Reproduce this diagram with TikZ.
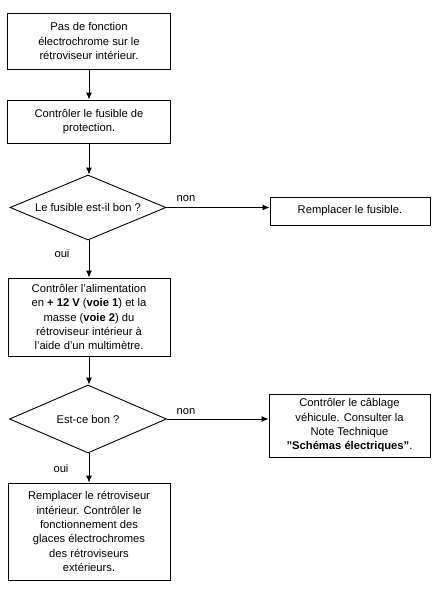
\documentclass[tikz,border=0pt]{standalone}
\usepackage{fontspec}
\setmainfont{Liberation Sans}
\usetikzlibrary{shapes.geometric,arrows.meta}
\begin{document}
\begin{tikzpicture}[x=1pt,y=-1pt,
  every node/.style={font=\fontsize{11.2}{14.3}\selectfont},
  boxnode/.style={draw,line width=0.9pt,rectangle,inner sep=0pt,align=center},
  decision/.style={draw,line width=0.9pt,diamond,inner sep=0pt,aspect=2.4},
  lbl/.style={inner sep=0pt},
  arr/.style={line width=0.9pt,-{Latex[length=7pt,width=6pt]}}]
\useasboundingbox (0,0) rectangle (435,592);
\node[boxnode,minimum width=163pt,minimum height=56pt] (b1) at (89,41)
  {Pas de fonction\\électrochrome sur le\\rétroviseur intérieur.};
\node[boxnode,minimum width=163pt,minimum height=43pt] (b2) at (89,121.5)
  {Contrôler le fusible de\\protection.};
\node[decision,minimum width=156pt,minimum height=65pt] (d1) at (88,207.5)
  {Le fusible est-il bon ?};
\node[boxnode,minimum width=160pt,minimum height=28pt] (r1) at (350,211)
  {Remplacer le fusible.};
\node[boxnode,minimum width=162pt,minimum height=78pt] (b3) at (89,317)
  {Contrôler l'alimentation\\en \textbf{+ 12 V} (\textbf{voie 1}) et la\\masse (\textbf{voie 2}) du\\rétroviseur intérieur à\\l'aide d'un multimètre.};
\node[decision,minimum width=157pt,minimum height=68pt] (d2) at (88,419)
  {Est-ce bon ?};
\node[boxnode,minimum width=161pt,minimum height=63pt] (r2) at (349.5,425.5)
  {Contrôler le câblage\\véhicule. Consulter la\\Note Technique\\\textbf{"Schémas électriques"}.};
\node[boxnode,minimum width=162pt,minimum height=97pt] (b5) at (89,531.5)
  {Remplacer le rétroviseur\\intérieur. Contrôler le\\fonctionnement des\\glaces électrochromes\\des rétroviseurs\\extérieurs.};
\node[lbl] (n1) at (186,199) {non};
\node[lbl] (n2) at (186,412) {non};
\node[lbl] (o1) at (62,253) {oui};
\node[lbl] (o2) at (61,468) {oui};
\draw[arr] (b1.south -| 89,0) -- (b2.north -| 89,0);
\draw[arr] (b2.south -| 89,0) -- (d1.north -| 89,0);
\draw[arr] (d1.south -| 89,0) -- (b3.north -| 89,0);
\draw[arr] (b3.south -| 89,0) -- (d2.north -| 89,0);
\draw[arr] (d2.south -| 89,0) -- (b5.north -| 89,0);
\draw[arr] (d1.east) -- (d1.east -| r1.west);
\draw[arr] (d2.east) -- (d2.east -| r2.west);
\end{tikzpicture}
\end{document}
